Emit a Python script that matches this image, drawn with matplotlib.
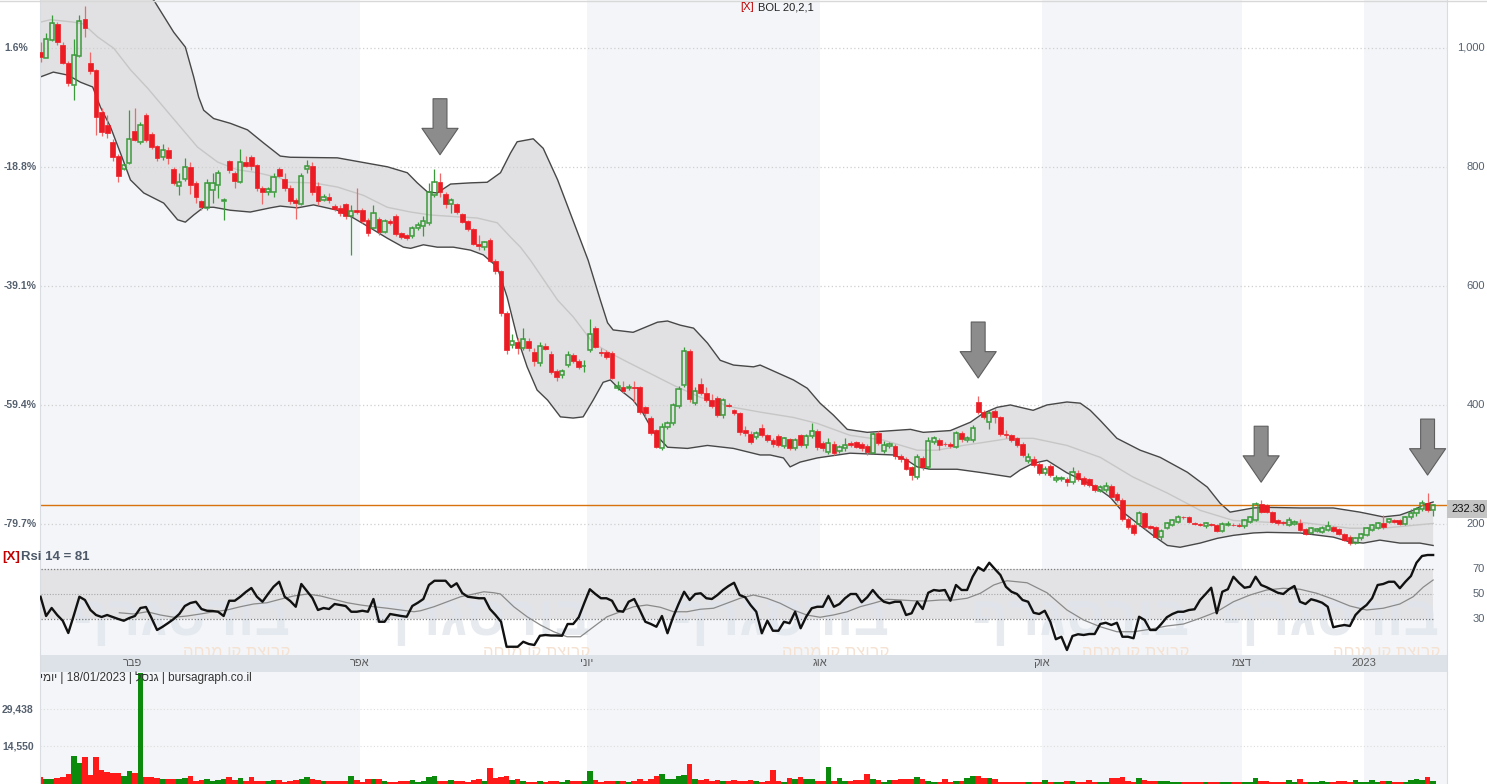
import numpy as np
import matplotlib
matplotlib.use('Agg')
import matplotlib.pyplot as plt
from matplotlib import transforms as mtrans

plt.rcParams['font.family'] = ['Liberation Sans', 'DejaVu Sans']

# ---- daily candles, index 0 = first visible day ----
opens = [993, 983, 1013, 1040, 1005, 975, 937, 986, 1049, 975,
         962, 892, 870, 842, 818, 797, 807, 860, 842, 887,
         855, 835, 817, 829, 796, 768, 779, 800, 773, 742,
         730, 761, 769, 743, 810, 790, 775, 808, 817, 803,
         765, 757, 757, 796, 779, 765, 744, 737, 796, 801,
         768, 745, 749, 734, 731, 737, 717, 727, 727, 711,
         698, 713, 691, 709, 718, 688, 685, 684, 697, 700,
         706, 753, 774, 754, 737, 737, 721, 709, 696, 671,
         666, 677, 642, 625, 554, 500, 506, 495, 507, 489,
         470, 499, 485, 457, 450, 467, 484, 474, 465, 492,
         529, 489, 489, 488, 429, 430, 429, 430, 430, 396,
         378, 358, 327, 363, 369, 398, 433, 491, 404, 435,
         420, 408, 411, 383, 400, 391, 386, 358, 352, 347,
         361, 349, 341, 348, 331, 342, 327, 349, 333, 348,
         356, 336, 321, 335, 323, 327, 336, 337, 334, 331,
         320, 353, 323, 331, 331, 314, 309, 296, 279, 311,
         295, 338, 341, 335, 335, 330, 353, 341, 341, 405,
         389, 372, 390, 380, 352, 349, 344, 335, 306, 310,
         301, 285, 297, 274, 275, 275, 271, 286, 278, 275,
         265, 256, 257, 264, 250, 240, 209, 198, 200, 218,
         197, 195, 178, 194, 198, 204, 212, 211, 201, 200,
         196, 200, 198, 188, 198, 199, 199, 196, 204, 207,
         234, 232, 220, 207, 203, 198, 200, 201, 191, 185,
         188, 187, 190, 195, 191, 183, 179, 168, 176, 182,
         190, 194, 201, 204, 207, 207, 200, 211, 219, 226,
         236, 223]
highs = [1010, 1025, 1055, 1043, 1010, 978, 1015, 1055, 1070, 992,
         965, 898, 887, 846, 822, 805, 895, 899, 875, 890,
         858, 837, 838, 833, 800, 790, 815, 808, 776, 745,
         780, 790, 795, 748, 812, 793, 830, 818, 820, 805,
         768, 766, 790, 800, 790, 770, 748, 790, 812, 808,
         775, 755, 756, 738, 735, 740, 735, 764, 730, 714,
         735, 716, 712, 712, 721, 690, 687, 700, 708, 718,
         772, 796, 790, 757, 747, 740, 723, 711, 698, 685,
         676, 680, 645, 627, 557, 520, 512, 530, 512, 495,
         505, 504, 490, 460, 460, 490, 488, 477, 475, 544,
         532, 495, 492, 491, 440, 440, 436, 440, 432, 399,
         381, 360, 370, 373, 403, 432, 498, 494, 430, 445,
         430, 418, 415, 412, 403, 394, 389, 365, 356, 356,
         368, 352, 344, 352, 347, 345, 345, 352, 352, 370,
         360, 340, 345, 340, 332, 345, 340, 340, 338, 334,
         355, 356, 340, 338, 334, 317, 312, 298, 318, 314,
         346, 348, 344, 337, 338, 356, 357, 348, 366, 415,
         392, 392, 394, 382, 358, 352, 347, 338, 320, 314,
         304, 298, 300, 282, 281, 279, 295, 290, 281, 278,
         268, 266, 270, 267, 253, 243, 212, 201, 222, 221,
         199, 197, 191, 203, 209, 215, 214, 213, 203, 202,
         203, 202, 200, 203, 205, 201, 201, 208, 214, 237,
         240, 234, 222, 209, 205, 212, 206, 208, 193, 195,
         193, 196, 205, 197, 193, 185, 181, 178, 185, 195,
         200, 203, 215, 210, 209, 209, 214, 225, 228, 240,
         252, 234]
lows = [976, 983, 1012, 1005, 972, 936, 912, 984, 1018, 955,
        853, 851, 848, 810, 775, 795, 805, 843, 838, 842,
        830, 810, 812, 805, 770, 752, 776, 755, 740, 728,
        727, 740, 748, 710, 790, 765, 772, 800, 795, 760,
        738, 752, 750, 782, 760, 738, 712, 735, 790, 752,
        735, 742, 740, 726, 718, 712, 652, 720, 705, 683,
        695, 685, 688, 703, 683, 678, 677, 680, 694, 683,
        703, 750, 750, 730, 723, 720, 705, 692, 668, 660,
        660, 640, 620, 550, 485, 495, 485, 493, 490, 465,
        466, 492, 452, 440, 446, 464, 470, 460, 455, 489,
        495, 482, 478, 443, 425, 420, 425, 405, 385, 380,
        350, 328, 325, 360, 366, 395, 430, 405, 400, 416,
        405, 395, 380, 378, 396, 383, 350, 348, 335, 343,
        346, 338, 330, 330, 328, 324, 325, 330, 328, 345,
        325, 322, 318, 316, 320, 322, 329, 327, 323, 316,
        318, 333, 320, 328, 310, 305, 290, 274, 276, 290,
        293, 335, 325, 331, 328, 328, 338, 338, 338, 385,
        376, 360, 370, 348, 345, 338, 330, 313, 303, 296,
        283, 282, 279, 270, 272, 264, 268, 272, 264, 262,
        254, 253, 254, 243, 237, 205, 192, 182, 197, 192,
        192, 177, 173, 191, 196, 202, 209, 202, 199, 196,
        194, 196, 186, 186, 196, 196, 195, 194, 202, 205,
        218, 218, 202, 199, 199, 196, 198, 188, 182, 183,
        186, 185, 188, 187, 181, 171, 165, 166, 174, 180,
        188, 192, 192, 202, 201, 198, 198, 209, 214, 222,
        221, 214]
closes = [984, 1015, 1042, 1009, 975, 940, 988, 1044, 1033, 961,
          884, 859, 857, 817, 785, 803, 846, 845, 871, 845,
          834, 814, 828, 814, 773, 774, 800, 769, 749, 732,
          772, 772, 789, 745, 795, 776, 808, 802, 801, 764,
          758, 762, 783, 785, 764, 742, 739, 785, 802, 758,
          742, 750, 745, 729, 723, 717, 726, 724, 709, 689,
          723, 691, 709, 706, 687, 682, 681, 698, 703, 709,
          758, 775, 758, 737, 744, 724, 708, 695, 671, 667,
          673, 642, 625, 554, 492, 507, 495, 510, 495, 474,
          499, 494, 456, 447, 457, 484, 473, 464, 466, 520,
          498, 488, 480, 446, 431, 424, 430, 429, 388, 386,
          353, 330, 363, 370, 400, 426, 491, 410, 424, 420,
          408, 398, 383, 408, 398, 386, 355, 353, 338, 353,
          349, 341, 334, 333, 344, 327, 341, 333, 348, 357,
          330, 327, 336, 320, 330, 333, 332, 330, 327, 321,
          351, 336, 332, 334, 314, 309, 293, 282, 312, 295,
          340, 344, 332, 334, 331, 353, 342, 344, 362, 389,
          380, 386, 380, 352, 349, 341, 333, 316, 312, 299,
          286, 293, 282, 278, 278, 271, 288, 275, 267, 265,
          257, 263, 264, 246, 240, 208, 195, 185, 219, 195,
          194, 179, 188, 201, 206, 212, 211, 204, 200, 198,
          201, 198, 188, 200, 200, 198, 197, 206, 212, 234,
          220, 220, 204, 201, 201, 206, 204, 190, 184, 193,
          191, 194, 197, 189, 183, 173, 168, 176, 183, 193,
          198, 201, 195, 208, 203, 200, 212, 218, 226, 236,
          223, 232.3]
volumes = [1900, 1350, 1350, 1620, 2160, 3250, 10550, 7840, 10000, 2840,
           10000, 4870, 4190, 3520, 3520, 2430, 4460, 3520, 44360, 2160,
           1900, 1620, 1080, 1080, 1080, 1080, 1490, 2430, 540, 810,
           1080, 540, 810, 1080, 2160, 810, 1490, 540, 2160, 540,
           540, 540, 810, 810, 140, 540, 810, 1080, 1900, 1080,
           810, 540, 540, 540, 540, 540, 2430, 810, 140, 1220,
           1220, 1220, 540, 140, 140, 540, 540, 810, 140, 540,
           1900, 2430, 540, 540, 810, 540, 540, 140, 810, 1220,
           540, 5540, 1490, 1900, 2430, 810, 1220, 540, 140, 140,
           540, 140, 540, 540, 140, 810, 540, 540, 540, 4600,
           810, 140, 540, 540, 540, 540, 100, 540, 1220, 540,
           1080, 2430, 3250, 1220, 1080, 2430, 2840, 7300, 1220, 810,
           1220, 540, 810, 540, 540, 810, 540, 540, 810, 540,
           140, 540, 4870, 540, 140, 1490, 1080, 1900, 1080, 1220,
           540, 540, 5950, 540, 1490, 540, 540, 810, 810, 3110,
           1220, 810, 140, 810, 810, 1080, 1080, 1080, 2160, 1220,
           540, 140, 140, 1080, 140, 540, 540, 1620, 2430, 2430,
           1490, 1620, 1220, 200, 200, 200, 200, 200, 200, 200,
           200, 810, 200, 200, 200, 540, 540, 200, 200, 810,
           200, 200, 200, 1750, 1490, 2160, 540, 200, 1620, 810,
           540, 540, 540, 540, 200, 200, 200, 200, 200, 200,
           200, 200, 200, 200, 200, 200, 200, 200, 200, 1490,
           540, 540, 200, 200, 200, 810, 200, 1220, 200, 200,
           200, 540, 200, 200, 540, 540, 200, 810, 200, 200,
           810, 200, 540, 540, 200, 200, 200, 810, 1220, 810,
           2160, 540]

# ---- Bollinger 20,2 lines, read at their turning points (x in candle units) ----
upper_idx = [0, 12, 20.4, 24, 26.1, 27.6, 28.5, 29.4, 31.2, 34.2, 37.3, 40.2, 43.2, 45,
             53.5, 62.5, 66.1, 67.9, 69.7, 71.5, 73.9, 77.5, 80.5, 82.9, 84.7, 85.9, 88.8,
             90.6, 93.2, 98.7, 100.9, 102.2, 103.2, 106.8, 111.2, 113, 115.3, 117.7, 120.2,
             122.5, 124.9, 128.5, 129.7, 135.7, 138.2, 140.5, 142.9, 145.4, 149, 156.8,
             159.1, 164, 167.6, 169.9, 172.4, 174.8, 176.6, 178.9, 181.4, 185, 187.4, 189.2,
             191, 194, 198.2, 201.8, 206.7, 210.3, 212.6, 214.4, 218.6, 221.1, 227, 233,
             237.8, 242, 245, 247.4, 249.2, 251]
upper_val = [1130, 1125, 1080, 1026, 1001, 951, 917, 895, 881, 873, 862, 840, 818, 816,
             815, 800, 790, 773, 758, 756, 771, 773, 774, 790, 823, 842, 847,
             831, 778, 643, 576, 538, 526, 522, 539, 541, 534, 529, 504,
             475, 467, 464, 467, 442, 428, 403, 383, 359, 354, 359,
             354, 357, 371, 386, 396, 400, 396, 391, 400, 405, 403, 391,
             374, 344, 324, 312, 287, 262, 235, 220, 227, 228, 227, 227,
             220, 212, 215, 223, 232, 237]
lower_idx = [0, 2.3, 4.9, 7.2, 9.4, 10.8, 12.6, 14.4, 16.2, 18.6, 22.2, 24.7, 26.1, 27.6,
             29.4, 31.2, 34.2, 37.8, 41.4, 43.2, 46.3, 49.2, 53.5, 56.4, 59.5, 62.5, 65.4,
             66.7, 69, 71.5, 74.4, 77.5, 79.8, 82.3, 84.1, 85.9, 87.7, 89.5, 91.4, 93.7, 96,
             97.8, 99.6, 101.4, 102.7, 104.5, 106.8, 108.6, 110.5, 113, 116.6, 120.2, 124.9,
             129.7, 131.5, 133.9, 135.1, 136.9, 140, 145.9, 153.7, 156.2, 158, 160.4, 165.2,
             169.9, 174.8, 176.6, 178.9, 181.4, 185, 188.6, 191, 192.8, 195.1, 197.7, 200.5,
             203.1, 205.4, 209, 212.1, 215, 218.6, 221.1, 227, 233, 236, 238.4, 241.4, 245,
             248.6, 251]
lower_val = [951, 959, 954, 942, 934, 900, 867, 823, 778, 756, 739, 711, 707, 719,
             732, 732, 727, 724, 731, 734, 731, 736, 727, 714, 697, 680, 665,
             663, 669, 665, 665, 660, 652, 632, 581, 514, 464, 425, 408, 380, 378,
             380, 408, 438, 442, 425, 408, 386, 354, 329, 327, 332, 327,
             316, 316, 311, 296, 304, 311, 319, 316, 307, 296, 292, 292,
             286, 279, 291, 302, 307, 286, 270, 257, 245, 220, 201, 181,
             164, 161, 168, 176, 181, 185, 186, 185, 178, 170, 168, 173, 168,
             168, 164]
mid_idx = [0, 1.8, 5.9, 7.7, 10.3, 13.2, 16.2, 19.3, 22.2, 25.2, 28.3, 31.9, 35.5, 39.1,
           43.2, 44.5, 49.2, 53.5, 58.2, 62.5, 66.7, 70.3, 75.1, 78.7, 82.3, 84.7, 86.5,
           88.3, 93.2, 96, 99.6, 102.7, 105.8, 110.5, 114.1, 118.9, 124.9, 129.7, 135.7,
           140, 145.9, 151.9, 158, 161.6, 166.3, 169.9, 174.8, 178.9, 185, 191, 196.9,
           203.1, 209, 215, 221.1, 227, 236, 242, 251]
mid_val = [1043, 1047, 1043, 1040, 1018, 999, 963, 932, 900, 867, 833, 808, 795, 790,
           781, 774, 773, 766, 752, 732, 724, 719, 716, 714, 706, 682, 665,
           643, 576, 548, 504, 487, 472, 450, 433, 413, 396, 388, 379,
           369, 349, 341, 324, 324, 332, 337, 344, 344, 332, 312, 279,
           252, 223, 206, 203, 203, 193, 193, 201]

# ---- RSI 14 (per candle) and its gray average line ----
rsi = [47.8, 32.4, 38.8, 33.2, 28.6, 18.8, 33, 47.8, 45.2, 37.2,
       33.2, 31.6, 33.2, 31.6, 30, 28.6, 30.8, 32.4, 38.8, 39.6,
       30.8, 21.2, 23.8, 26.8, 30, 34, 40.4, 42.8, 43.8, 38,
       36.6, 36.4, 35.8, 32.4, 44.6, 44.6, 47.8, 51.6, 54.8, 47.8,
       43.8, 50, 55.8, 59.8, 47.8, 44.4, 39.8, 58, 52.4, 46.8,
       37.2, 38.8, 38, 42, 41.2, 40.4, 35.8, 35.8, 36.6, 35.8,
       46, 27.8, 27.8, 34, 33.2, 32.4, 31.8, 40.4, 43, 46,
       57.2, 60.6, 60.6, 60.6, 55.6, 58.6, 50.8, 47.8, 47.2, 46.6,
       46.6, 38, 33.2, 27.8, 7.8, 7.8, 7.8, 11.8, 10, 9.2,
       16.6, 17.2, 16.8, 16.8, 16.6, 26, 26, 31.4, 42.8, 53.8,
       50, 46.6, 46.6, 44.6, 36.6, 35.8, 43.8, 46, 37.2, 27.8,
       26, 23.8, 32.4, 18.6, 31.4, 42, 51.8, 45.2, 50, 50.6,
       46.6, 46, 49.2, 53.2, 56.4, 59, 49.2, 47.4, 41, 35.8,
       18.6, 28.6, 20.6, 20.6, 27.8, 26.6, 35.8, 22.6, 31.8, 38.6,
       39.8, 39.8, 48.4, 39.8, 42, 46.6, 50, 50, 43.4, 47.4,
       53.2, 47.8, 43.8, 42.6, 43.8, 43.8, 33.2, 34.6, 43.8, 38,
       51, 53.2, 52.6, 53.2, 44.6, 57.2, 53.2, 53.2, 63.8, 71.4,
       68.6, 75, 70, 65.2, 55.8, 51.8, 50, 45.2, 43.8, 35,
       34, 36.6, 27.8, 13.8, 15.8, 5.2, 16.4, 17.8, 17.2, 18,
       18, 26, 27, 25.2, 27, 15.8, 15.8, 14.6, 31.8, 29.2,
       21.2, 21.2, 26, 31.4, 34, 35.8, 35.8, 37.2, 37.8, 45.2,
       50, 55, 34.6, 51.8, 53.8, 63.8, 59, 55, 55.8, 63.8,
       57.2, 55.4, 53.2, 51, 50, 53.8, 56.4, 43.8, 42, 45.8,
       44.6, 43, 39.8, 23.4, 24.4, 25.2, 24.4, 33.2, 37.8, 41.2,
       46.6, 57.2, 58, 59.8, 59.8, 54.6, 59.8, 64.4, 75, 80.4,
       81.2, 81.2]
sig_idx = [14.2, 16.8, 19.2, 21.6, 24, 26.4, 28.8, 31.2, 33.6, 36, 38.4, 40.8, 43.2, 45.6,
           48.1, 50.5, 52.8, 55.3, 57.7, 60.1, 62.5, 64.9, 67.3, 68.5, 70.9, 73.3, 75.7,
           78.1, 79.9, 81.7, 82.9, 85.3, 87.7, 90.1, 92.5, 94.9, 97.3, 99.7, 102.1, 104.5,
           106.9, 109.3, 111.7, 114.1, 116.5, 118.9, 121.3, 123.7, 126.1, 128.5, 130.9,
           133.3, 135.7, 138.1, 140.5, 142.9, 145.4, 147.7, 150.1, 152.6, 155, 157.4,
           159.8, 162.2, 164.6, 167, 169.4, 171.8, 173, 174.2, 177.8, 181.4, 185, 188,
           191, 194, 197, 200, 203, 206, 209, 212, 215, 218, 221, 224, 227, 230, 233,
           236, 239, 242, 245, 247.4, 249.2, 251]
sig_val = [35, 34, 35.8, 33.2, 31.4, 32.4, 34, 35.8, 37.2, 39.8, 42, 43, 45.8, 48.4,
           50, 48.4, 45.8, 43, 41.2, 39.8, 38.6, 37.2, 35.8, 36.6, 39.8, 43.8, 47.8,
           50, 51.8, 51, 50, 39.8, 31.8, 25.2, 19.8, 15.8, 15.8, 23.8, 31.8, 35.8,
           39.8, 41.2, 39.4, 35.8, 35.8, 37.8, 38.6, 42.6, 46.6, 49.2, 46.6,
           42.6, 37.2, 33.2, 31.4, 33.2, 35.8, 39.8, 42.6, 45.8, 45.2, 44.6,
           44.4, 45.2, 45.2, 46.6, 50.6, 57.2, 59, 60.6, 59, 51, 37.2, 29.2,
           23.8, 19.8, 19.8, 21.8, 24.4, 26, 30.6, 35.8, 43.8, 49.2, 53.2, 54.6, 53.8, 50.6, 45.8,
           40.4, 37.2, 38.6, 42, 47.8, 55.4, 61.2]

# ---- axis labels ----
price_ticks = [1000, 800, 600, 400, 200]
pct_labels = ['1.6%', '-18.8%', '-39.1%', '-59.4%', '-79.7%']
rsi_ticks = [70, 50, 30]
vol_ticks = [29438, 14550]
month_idx = [16.5, 57.5, 98.5, 140.5, 180.5, 216.5, 238.5]
month_names = ['פבר', 'אפר', 'יוני', 'אוג', 'אוק', 'דצמ', '2023']
arrow_idx = [72, 169, 220, 250]
stock_name = 'גנסל'
chart_date = '18/01/2023'


def heb(s):
    # matplotlib has no bidi support, so hebrew is fed in visual order
    return s[::-1]


o = np.array(opens, float)
h = np.array(highs, float)
l = np.array(lows, float)
c = np.array(closes, float)
v = np.array(volumes, float)
N = len(c)
x = np.arange(N)
up = c >= o

W, H = 1487, 784
fig = plt.figure(figsize=(W / 100, H / 100), dpi=100)
fig.patch.set_facecolor('white')


def px_axes(x0, y0, x1, y1):
    return fig.add_axes([x0 / W, 1 - y1 / H, (x1 - x0) / W, (y1 - y0) / H])


ax = px_axes(40, 0, 1447, 550)
ax_rsi = px_axes(40, 550, 1447, 655)
ax_strip = px_axes(40, 655, 1447, 672)
ax_vol = px_axes(40, 672, 1447, 784)

xlim = (-0.1, 253.5)
label_col = '#55606e'
for a in (ax, ax_rsi, ax_strip, ax_vol):
    a.set_xlim(*xlim)
    a.set_xticks([])
    a.set_yticks([])
    for s in a.spines.values():
        s.set_visible(False)
    a.spines['left'].set_visible(True)
    a.spines['left'].set_color('#d9dce0')
    a.spines['right'].set_visible(True)
    a.spines['right'].set_color('#d9dce0')
    a.patch.set_alpha(0)

# alternating month shading
edges = [xlim[0]] + month_idx[1:] + [xlim[1]]
for a in (ax, ax_rsi, ax_vol):
    for k in range(0, len(edges) - 1, 2):
        a.axvspan(edges[k], edges[k + 1], color='#f3f5f8', lw=0, zorder=0)

# ---------------- price panel ----------------
ax.set_ylim(156.4, 1080.1)
ax.fill(np.r_[upper_idx, lower_idx[::-1]], np.r_[upper_val, lower_val[::-1]],
        color='#e1e1e3', lw=0, zorder=1)
for p in price_ticks:
    ax.axhline(p, color='#cfcfcf', lw=0.9, ls=(0, (1, 2)), zorder=1.5)
ax.plot(mid_idx, mid_val, color='#c6c6c6', lw=1.0, zorder=2)
ax.plot(upper_idx, upper_val, color='#474747', lw=1.0, zorder=2)
ax.plot(lower_idx, lower_val, color='#474747', lw=1.0, zorder=2)
ax.axhline(c[-1], color='#d8720f', lw=1.0, zorder=2.5)

red, green = '#ec1c24', '#3b9a3b'
top = np.maximum(o, c)
bot = np.minimum(o, c)
ax.vlines(x[~up], top[~up], h[~up], colors='#f06868', lw=0.9, zorder=3)
ax.vlines(x[~up], l[~up], bot[~up], colors='#f06868', lw=0.9, zorder=3)
ax.vlines(x[up], top[up], h[up], colors=green, lw=0.9, zorder=3)
ax.vlines(x[up], l[up], bot[up], colors=green, lw=0.9, zorder=3)
ax.bar(x[~up], (o - c)[~up], bottom=c[~up], width=0.86, color=red,
       edgecolor=red, lw=0.5, zorder=4)
ax.bar(x[up], (c - o)[up], bottom=o[up], width=0.76, facecolor='none',
       edgecolor=green, lw=1.1, zorder=4)

tip = mtrans.offset_copy(ax.transData, fig=fig, x=0, y=18, units='dots')
for i in arrow_idx:
    ax.annotate('', xy=(i, h[i]), xycoords=tip, xytext=(0, 56),
                textcoords='offset pixels', zorder=6,
                arrowprops=dict(arrowstyle='simple,head_length=19,head_width=26,tail_width=10',
                                mutation_scale=1, fc='#8c8c8c', ec='#5e5e5e', lw=0.8,
                                shrinkA=0, shrinkB=0))

blend = mtrans.blended_transform_factory(ax.transAxes, ax.transData)
for p, lab in zip(price_ticks, pct_labels):
    ax.text(-36 / 1407, p, lab, transform=blend, ha='left', va='center',
            fontsize=7.5, fontweight='bold', color=label_col, clip_on=False)
    ax.text(1445 / 1407, p, f'{p:,}', transform=blend, ha='right', va='center',
            fontsize=8, color=label_col, clip_on=False)
tag = mtrans.offset_copy(blend, fig=fig, x=0, y=-4, units='dots')
ax.text(1411 / 1407, c[-1], f'{c[-1]:.2f}', transform=tag, ha='left', va='center',
        fontsize=8, color='#111111', clip_on=False,
        bbox=dict(boxstyle='square,pad=0.35', fc='#c4c4c4', ec='none'))

fig.text(740 / W, 1 - 7.5 / H, '[X]', color='#c00000', fontsize=8, va='center')
fig.text(758 / W, 1 - 7.5 / H, 'BOL 20,2,1', color='#222222', fontsize=8, va='center')

# ---------------- RSI panel ----------------
ax_rsi.set_ylim(1.2, 85.2)
ax_rsi.fill_between([0, N - 1], 30, 70, color='#e3e3e5', lw=0, zorder=1)
for right_edge in [0.178, 0.391, 0.604, 0.817, 0.995]:
    ax_rsi.text(right_edge, 0.32, heb('בורסגרף'), transform=ax_rsi.transAxes, ha='right',
                va='center', fontsize=40, fontweight='bold', color='#dfe5ec',
                alpha=0.75, zorder=1.5, clip_on=True)
    ax_rsi.text(right_edge, 0.02, heb('קבוצת קו מנחה'), transform=ax_rsi.transAxes,
                ha='right', va='center', fontsize=12, color='#f5e2d2', zorder=1.5,
                clip_on=True)
ax_rsi.hlines([70, 30], 0, N - 1, colors='#7d7d7d', lw=0.9, linestyles=(0, (1, 1.5)), zorder=2)
ax_rsi.hlines([50], 0, N - 1, colors='#a8a8a8', lw=0.8, linestyles=(0, (1, 1.5)), zorder=2)
ax_rsi.plot(sig_idx, sig_val, color='#8a8a8a', lw=0.9, zorder=3)
ax_rsi.plot(x, rsi, color='#111111', lw=1.7, zorder=4)
blend_r = mtrans.blended_transform_factory(ax_rsi.transAxes, ax_rsi.transData)
for t in rsi_ticks:
    ax_rsi.text(1445 / 1407, t, str(t), transform=blend_r, ha='right', va='center',
                fontsize=8, color=label_col, clip_on=False)
fig.text(2 / W, 1 - 557 / H, '[X]', color='#c00000', fontsize=9.5,
         fontweight='bold', va='center')
fig.text(21 / W, 1 - 557 / H, f'Rsi 14 = {rsi[-1]:.0f}', color='#4d5868',
         fontsize=9.5, fontweight='bold', va='center')

# ---------------- month strip ----------------
ax_strip.patch.set_alpha(1)
ax_strip.set_facecolor('#dde2e9')
ax_strip.set_ylim(0, 1)
for m, name in zip(month_idx, month_names):
    lab = name if name.isdigit() else heb(name)
    ax_strip.text(m, 0.5, lab, ha='center', va='center', fontsize=8, color='#5a5a5a')

# ---------------- volume panel ----------------
vol_floor = -811
ax_vol.set_ylim(vol_floor, 44627)
for t in vol_ticks:
    ax_vol.axhline(t, color='#dddddd', lw=0.8, ls=(0, (1, 2)), zorder=1)
# bars rise from the panel floor
ax_vol.bar(x, v - vol_floor, bottom=vol_floor, width=1.0,
           color=np.where(up, '#0b8a0b', '#ff1a1a'), lw=0, zorder=2)
blend_v = mtrans.blended_transform_factory(ax_vol.transAxes, ax_vol.transData)
for t in vol_ticks:
    ax_vol.text(-38 / 1407, t, f'{t:,}', transform=blend_v, ha='left', va='center',
                fontsize=7.5, fontweight='bold', color=label_col, clip_on=False)
header = heb('יומי') + ' | ' + chart_date + ' | ' + heb(stock_name) + ' | bursagraph.co.il'
fig.text(40 / W, 1 - 678 / H, header, fontsize=8.5, color='#333333', va='center')

fig.add_artist(plt.Line2D([0, 1], [1 - 0.5 / H, 1 - 0.5 / H], color='#d8d8d8', lw=1))

fig.savefig('out.png', dpi=100, facecolor='white')
